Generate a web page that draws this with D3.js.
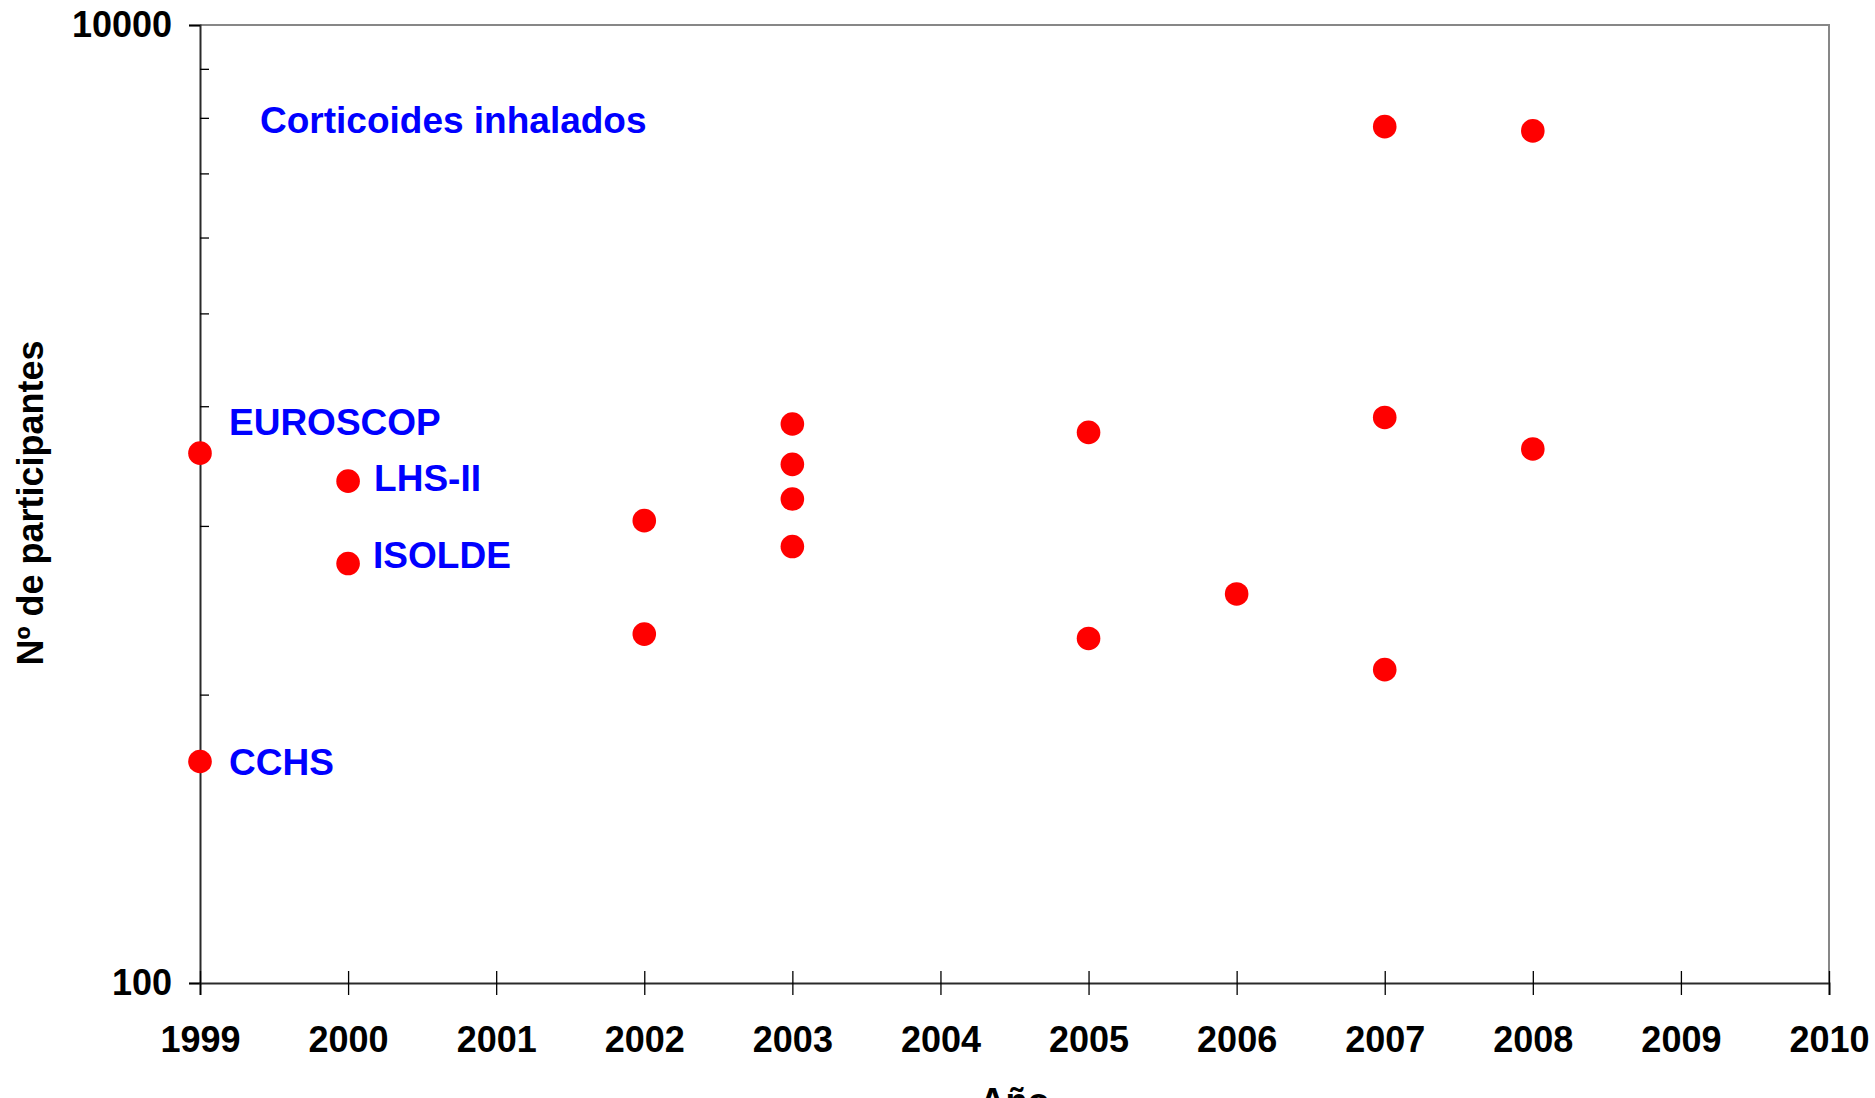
<!DOCTYPE html>
<html>
<head>
<meta charset="utf-8">
<script src="https://cdn.jsdelivr.net/npm/d3@7"></script>
<style>
  html, body { margin: 0; padding: 0; background: #fff; }
  svg { display: block; }
  text { font-family: "Liberation Sans", Arial, sans-serif; font-weight: bold; }
</style>
</head>
<body>
<svg id="chart" width="1875" height="1098"></svg>
<script>
// Publication year and number of participants of each trial
const years = [1999, 1999, 2000, 2000, 2002, 2002, 2003, 2003, 2003, 2003,
               2005, 2005, 2006, 2007, 2007, 2007, 2008, 2008];
const participants = [1277, 290, 1116, 751, 923, 535, 1469, 1210, 1024, 815,
                      1411, 524, 649, 6134, 1516, 451, 6010, 1303];

// Named trials (text, year, participants)
const trialNames = ["EUROSCOP", "LHS-II", "ISOLDE", "CCHS"];
const trialYears = [1999, 2000, 2000, 1999];
const trialParticipants = [1277, 1116, 751, 290];

// Axis ticks
const xTicks = [1999, 2000, 2001, 2002, 2003, 2004, 2005, 2006, 2007, 2008, 2009, 2010];
const yMajorTicks = [100, 10000];
const yMinorTicks = [400, 900, 1600, 2500, 3600, 4900, 6400, 8100];

const groupTitle = "Corticoides inhalados";
const xTitle = "Año";
const yTitle = "Nº de participantes";

(function draw() {
  const svg = d3.select("#chart");
  const plotLeft = 200, plotRight = 1829, plotTop = 25, plotBottom = 983;

  const x = d3.scaleLinear().domain([1999, 2010]).range([plotLeft, plotRight]);
  const y = d3.scaleLog().domain([100, 10000]).range([plotBottom, plotTop]);

  // Plot frame (top and right edges)
  svg.append("path")
    .attr("d", `M${plotLeft},${plotTop}H${plotRight}V${plotBottom}`)
    .attr("fill", "none")
    .attr("stroke", "#878787")
    .attr("stroke-width", 2);

  // Y axis: major ticks outside, labelled
  const yAxis = svg.append("g")
    .attr("transform", `translate(${plotLeft},0)`)
    .call(d3.axisLeft(y).tickValues(yMajorTicks).tickSize(11).tickPadding(17)
          .tickFormat(d3.format("d")));
  yAxis.select(".domain").attr("stroke", "#2a2a2a").attr("stroke-width", 2);
  yAxis.selectAll(".tick line").attr("stroke", "#000").attr("stroke-width", 1.5);
  yAxis.selectAll(".tick text").attr("font-size", 36).attr("fill", "#000")
    .attr("font-family", "'Liberation Sans', Arial, sans-serif");

  // Y axis: minor ticks inside
  const yMinor = svg.append("g")
    .attr("transform", `translate(${plotLeft},0)`)
    .call(d3.axisRight(y).tickValues(yMinorTicks).tickSize(9).tickFormat(""));
  yMinor.select(".domain").remove();
  yMinor.selectAll(".tick line").attr("stroke", "#000").attr("stroke-width", 1.3);

  // X axis: ticks crossing the axis line
  const xAxis = svg.append("g")
    .attr("transform", `translate(0,${plotBottom})`)
    .call(d3.axisBottom(x).tickValues(xTicks).tickSize(12).tickPadding(31)
          .tickFormat(d3.format("d")));
  xAxis.select(".domain").attr("stroke", "#2a2a2a").attr("stroke-width", 2);
  xAxis.selectAll(".tick line").attr("y1", -12).attr("y2", 12)
    .attr("stroke", "#000").attr("stroke-width", 1.3);
  xAxis.selectAll(".tick text").attr("font-size", 36).attr("fill", "#000")
    .attr("font-family", "'Liberation Sans', Arial, sans-serif");

  // Axis titles
  svg.append("text")
    .attr("transform", `translate(43,503) rotate(-90)`)
    .attr("text-anchor", "middle")
    .attr("font-size", 36)
    .attr("fill", "#000")
    .text(yTitle);

  svg.append("text")
    .attr("x", (plotLeft + plotRight) / 2)
    .attr("y", 1114)
    .attr("text-anchor", "middle")
    .attr("font-size", 36)
    .attr("fill", "#000")
    .text(xTitle);

  // Points
  const points = years.map((yr, i) => ({ year: yr, n: participants[i] }));
  svg.append("g")
    .selectAll("circle")
    .data(points)
    .join("circle")
    .attr("cx", d => x(d.year))
    .attr("cy", d => y(d.n))
    .attr("r", 11.8)
    .attr("fill", "#ff0000");

  // Group label
  svg.append("text")
    .attr("x", 260)
    .attr("y", 133)
    .attr("font-size", 37)
    .attr("fill", "#0000ff")
    .text(groupTitle);

  // Trial labels, offset from their points
  const labelOffsets = [[29, -18], [26, 10], [25, 4], [29, 13]];
  svg.append("g")
    .selectAll("text")
    .data(trialNames.map((t, i) => ({ t, year: trialYears[i], n: trialParticipants[i], off: labelOffsets[i] })))
    .join("text")
    .attr("x", d => x(d.year) + d.off[0])
    .attr("y", d => y(d.n) + d.off[1])
    .attr("font-size", 37)
    .attr("fill", "#0000ff")
    .text(d => d.t);
})();
</script>
</body>
</html>
